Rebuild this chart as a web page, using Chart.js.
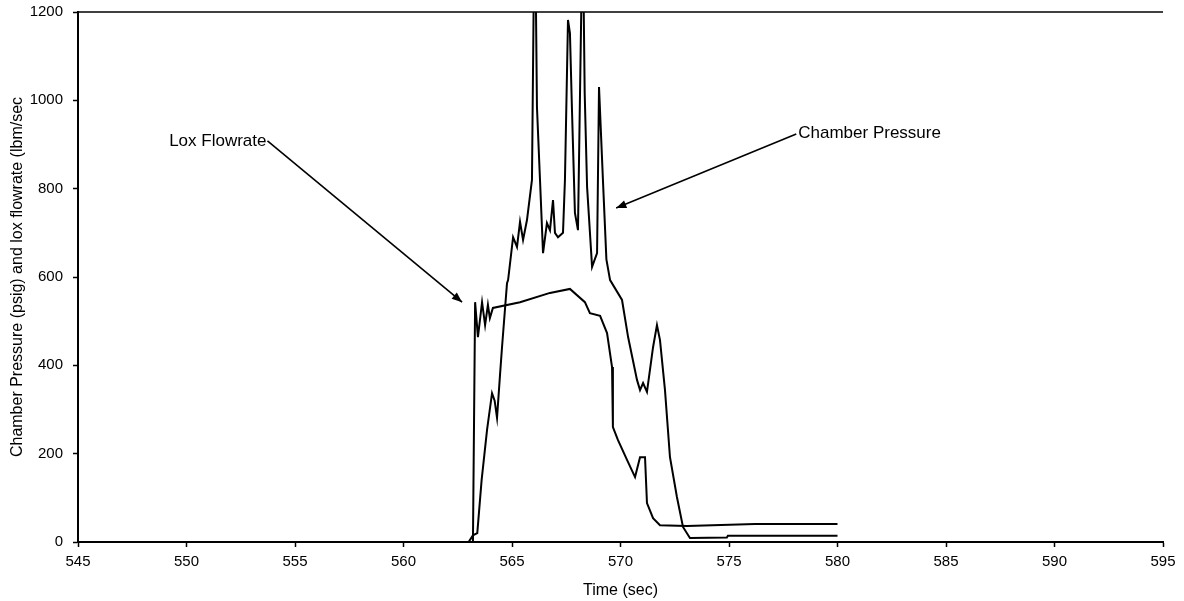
<!DOCTYPE html>
<html>
<head>
<meta charset="utf-8">
<title>Chamber Pressure and Lox Flowrate</title>
<script src="https://cdn.jsdelivr.net/npm/chart.js@4"></script>
<style>
  html, body { margin: 0; padding: 0; background: #fff; }
  #wrap { width: 1184px; height: 601px; position: relative; }
</style>
</head>
<body>
<div id="wrap"><canvas id="myChart"></canvas></div>
<script>
// time axis ticks (sec) and pressure/flow ticks
const xTicks = [545, 550, 555, 560, 565, 570, 575, 580, 585, 590, 595]
const yTicks = [0, 200, 400, 600, 800, 1000, 1200]

// lox flowrate trace
const loxTime = [545, 563.2, 563.3, 563.34, 563.43, 563.62, 563.76, 563.89, 563.98, 564.12,
  565.37, 566.75, 567.67, 568.36, 568.59, 569.06, 569.38, 569.61, 569.65, 569.88, 570.30,
  570.67, 570.90, 571.13, 571.22, 571.50, 571.82, 573.06, 576.2, 580]
const loxRate = [0, 0, 543, 543, 464, 543, 491, 537, 507, 530,
  543, 564, 573, 543, 518, 512, 473, 396, 260, 231, 186,
  147, 192, 192, 88, 54, 38, 36, 41, 41]

// chamber pressure trace (spikes past 1200 run off the top of the plot)
const chamberTime = [545, 563.0, 563.2, 563.4, 563.6, 563.85, 564.08, 564.2, 564.31, 564.45,
  564.54, 564.77, 564.82, 565.05, 565.23, 565.37, 565.51, 565.69, 565.92, 566.0, 566.1,
  566.15, 566.29, 566.43, 566.61, 566.75, 566.89, 566.98, 567.12, 567.35, 567.44, 567.58,
  567.67, 567.76, 567.90, 568.04, 568.2, 568.3, 568.35, 568.46, 568.69, 568.92, 569.01,
  569.19, 569.35, 569.52, 570.07, 570.35, 570.76, 570.90, 571.04, 571.22, 571.50, 571.68,
  571.82, 572.05, 572.28, 572.60, 572.88, 573.20, 574.9, 574.95, 580]
const chamberPressure = [0, 0, 15, 20, 140, 254, 337, 320, 281, 380,
  441, 586, 593, 690, 668, 725, 684, 729, 820, 1230, 1230,
  985, 820, 654, 722, 706, 774, 700, 690, 700, 820, 1182,
  1152, 985, 745, 706, 1230, 1230, 1016, 804, 623, 654, 1030,
  820, 640, 593, 548, 464, 367, 344, 360, 340, 441, 491,
  457, 344, 192, 102, 34, 9, 10, 14, 14]

// callout labels: text position and arrow tip, in data units (sec, value)
const calloutText = ['Lox Flowrate', 'Chamber Pressure']
const calloutFrom = [[549.2, 908], [578.1, 926]]
const calloutTo = [[562.7, 543], [569.8, 756]]

const fontFamily = '"Liberation Sans", Arial, sans-serif'

const callouts = {
  id: 'callouts',
  afterDatasetsDraw(chart) {
    const ctx = chart.ctx
    const xs = chart.scales.x
    const ys = chart.scales.y
    ctx.save()
    ctx.font = '17px ' + fontFamily
    ctx.fillStyle = '#000'
    ctx.strokeStyle = '#000'
    ctx.lineWidth = 1.6
    ctx.textBaseline = 'middle'
    ctx.textAlign = 'left'
    calloutText.forEach((text, i) => {
      const fx = xs.getPixelForValue(calloutFrom[i][0])
      const fy = ys.getPixelForValue(calloutFrom[i][1])
      const tx = xs.getPixelForValue(calloutTo[i][0])
      const ty = ys.getPixelForValue(calloutTo[i][1])
      const w = ctx.measureText(text).width
      // arrow leaves from the end of the first label, from the start of the second
      let sx, sy
      if (i === 0) {
        ctx.fillText(text, fx, fy)
        sx = fx + w + 1
        sy = fy
      } else {
        ctx.fillText(text, fx + 2, fy)
        sx = fx
        sy = fy + 1
      }
      ctx.beginPath()
      ctx.moveTo(sx, sy)
      ctx.lineTo(tx, ty)
      ctx.stroke()
      const a = Math.atan2(ty - sy, tx - sx)
      const len = 11, half = 0.38
      ctx.beginPath()
      ctx.moveTo(tx, ty)
      ctx.lineTo(tx - len * Math.cos(a - half), ty - len * Math.sin(a - half))
      ctx.lineTo(tx - len * Math.cos(a + half), ty - len * Math.sin(a + half))
      ctx.closePath()
      ctx.fill()
    })
    ctx.restore()
  }
}

// thin frame line along the top of the plot area
const topEdge = {
  id: 'topEdge',
  afterDraw(chart) {
    const { ctx, chartArea } = chart
    ctx.save()
    ctx.strokeStyle = '#000'
    ctx.lineWidth = 1.5
    ctx.beginPath()
    ctx.moveTo(chartArea.left, chartArea.top)
    ctx.lineTo(chartArea.right, chartArea.top)
    ctx.stroke()
    ctx.restore()
  }
}

const toPoints = (xs, ys) => xs.map((t, i) => ({ x: t, y: ys[i] }))
const plain = (v) => String(v)

const config = {
  type: 'line',
  data: {
    datasets: [{
      label: 'Lox Flowrate',
      data: toPoints(loxTime, loxRate),
      borderColor: '#000',
      borderWidth: 2,
      pointRadius: 0,
      tension: 0
    }, {
      label: 'Chamber Pressure',
      data: toPoints(chamberTime, chamberPressure),
      borderColor: '#000',
      borderWidth: 2,
      pointRadius: 0,
      tension: 0
    }]
  },
  options: {
    responsive: true,
    maintainAspectRatio: false,
    animation: false,
    events: [],
    layout: { padding: { left: 0, right: 21, top: 12, bottom: 0 } },
    plugins: {
      legend: { display: false },
      tooltip: { enabled: false }
    },
    scales: {
      x: {
        type: 'linear',
        min: xTicks[0],
        max: xTicks[xTicks.length - 1],
        afterBuildTicks: (scale) => { scale.ticks = xTicks.map(v => ({ value: v })) },
        afterFit: (scale) => {
          scale.height = 59
          scale.paddingLeft = 0
          scale.paddingRight = 0
        },
        border: { color: '#000', width: 2 },
        grid: { drawOnChartArea: false, color: '#000', tickLength: 5, tickWidth: 1.5 },
        ticks: { color: '#000', font: { family: fontFamily, size: 15 }, padding: 6, maxRotation: 0, callback: plain },
        title: {
          display: true,
          text: 'Time (sec)',
          color: '#000',
          font: { family: fontFamily, size: 16 },
          padding: { top: 2, bottom: 1 }
        }
      },
      y: {
        min: yTicks[0],
        max: yTicks[yTicks.length - 1],
        afterBuildTicks: (scale) => { scale.ticks = yTicks.map(v => ({ value: v })) },
        afterFit: (scale) => {
          scale.width = 78
          scale.paddingTop = 0
          scale.paddingBottom = 0
        },
        border: { color: '#000', width: 2 },
        grid: { drawOnChartArea: false, color: '#000', tickLength: 5, tickWidth: 1.5 },
        ticks: { color: '#000', font: { family: fontFamily, size: 15 }, padding: 10, callback: plain },
        title: {
          display: true,
          text: 'Chamber Pressure (psig) and lox flowrate (lbm/sec',
          color: '#000',
          font: { family: fontFamily, size: 16 },
          padding: { top: 8, bottom: 4 }
        }
      }
    }
  },
  plugins: [callouts, topEdge]
}

const myChart = new Chart(document.getElementById('myChart'), config)
</script>
</body>
</html>
